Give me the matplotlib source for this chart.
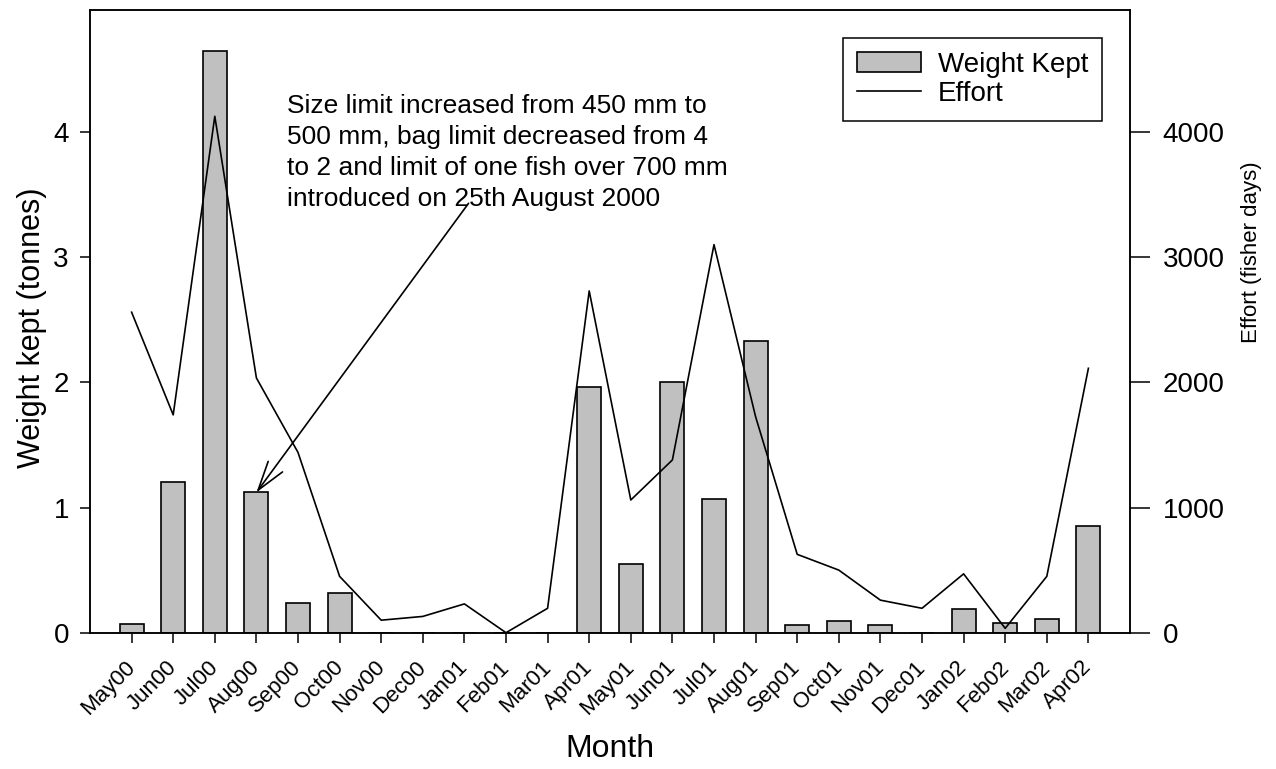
import matplotlib
matplotlib.use("Agg")
import matplotlib.pyplot as plt
import matplotlib.transforms as mtransforms
from matplotlib import font_manager
import numpy as np

plt.rcParams['font.family'] = ['Liberation Sans', 'DejaVu Sans']

months = ["May00", "Jun00", "Jul00", "Aug00", "Sep00", "Oct00", "Nov00", "Dec00",
          "Jan01", "Feb01", "Mar01", "Apr01", "May01", "Jun01", "Jul01", "Aug01",
          "Sep01", "Oct01", "Nov01", "Dec01", "Jan02", "Feb02", "Mar02", "Apr02"]
weight_kept = [0.07, 1.20, 4.65, 1.12, 0.24, 0.32, 0.0, 0.0,
               0.0, 0.0, 0.0, 1.96, 0.55, 2.00, 1.07, 2.33,
               0.06, 0.09, 0.06, 0.0, 0.19, 0.08, 0.11, 0.85]
effort = [2560, 1740, 4125, 2035, 1440, 450, 100, 130,
          230, 0, 195, 2730, 1060, 1380, 3100, 1725,
          626, 500, 260, 195, 470, 35, 450, 2112]

left_ticks = [0, 1, 2, 3, 4]
right_ticks = [0, 1000, 2000, 3000, 4000]
annotation_text = ("Size limit increased from 450 mm to\n"
                   "500 mm, bag limit decreased from 4\n"
                   "to 2 and limit of one fish over 700 mm\n"
                   "introduced on 25th August 2000")

available = {f.name for f in font_manager.fontManager.ttflist}
if 'Liberation Sans Narrow' in available:
    tick_family = ['Liberation Sans Narrow', 'DejaVu Sans']
    tick_size = 17
else:
    tick_family = ['Liberation Sans', 'DejaVu Sans']
    tick_size = 16

fig = plt.figure(figsize=(12.76, 7.69), dpi=100)
ax = fig.add_axes([90/1276, 1-632.7/769, (1130-90)/1276, (632.7-10)/769])
x = np.arange(len(months))

bars = ax.bar(x, weight_kept, width=0.58, color='#c0c0c0', edgecolor='black',
              linewidth=1.2, label='Weight Kept', zorder=2)
ax.set_xlim(-1, 24)
ax.set_ylim(0, 4.974)
ax.set_yticks(left_ticks)
ax.set_yticklabels([str(t) for t in left_ticks])
ax.set_xticks(x)
ax.set_xticklabels(months, rotation=45, ha='right', va='top', rotation_mode='anchor',
                   fontsize=tick_size, family=tick_family)
ax.tick_params(axis='y', direction='out', length=7.2, width=1.1, labelsize=20, pad=8)
ax.tick_params(axis='x', direction='out', length=7.2, width=1.1, pad=10)
ax.set_ylabel("Weight kept (tonnes)", fontsize=22)
ax.yaxis.set_label_coords(-0.041, 0.49)
ax.set_xlabel("Month", fontsize=23)
ax.xaxis.set_label_coords(0.5, -0.163)
for s in ax.spines.values():
    s.set_linewidth(1.1)

ax2 = ax.twinx()
line, = ax2.plot(x, effort, color='black', linewidth=1.2, label='Effort', zorder=3)
ax2.set_ylim(0, 4974)
ax2.set_yticks(right_ticks)
ax2.set_yticklabels([str(t) for t in right_ticks])
ax2.tick_params(axis='y', direction='out', length=14.5, width=1.1, labelsize=20, pad=9)
ax2.set_ylabel("Effort (fisher days)", fontsize=16)
ax2.yaxis.set_label_coords(1.117, 0.611)
ax2.yaxis.label.set_verticalalignment('center')
for s in ax2.spines.values():
    s.set_linewidth(1.1)

leg = ax2.legend([bars, line], ['Weight Kept', 'Effort'], loc='upper right',
                 bbox_to_anchor=((1102-90)/1040, 1-(38-10)/622.7), borderaxespad=0,
                 fancybox=False, framealpha=1, edgecolor='black', fontsize=20,
                 handlelength=2.3, handleheight=0.7, handletextpad=0.6,
                 labelspacing=0.1, borderpad=0.5)
leg.get_frame().set_linewidth(1.1)

ax2.text(3.73, 4300, annotation_text, fontsize=19, ha='left', va='top',
         linespacing=1.36)
ax2.annotate('', xy=(3, weight_kept[3] * 1000), xytext=(8.1, 3430),
             arrowprops=dict(arrowstyle='->,head_length=1.05,head_width=0.32',
                             color='black', lw=1.2, shrinkA=0, shrinkB=0,
                             mutation_scale=20))

fig.canvas.draw()
shift = mtransforms.ScaledTranslation(-7/100, 0, fig.dpi_scale_trans)
for tick in ax.xaxis.get_major_ticks():
    tick.label1.set_transform(tick.label1.get_transform() + shift)

fig.savefig("out.png", dpi=100)
